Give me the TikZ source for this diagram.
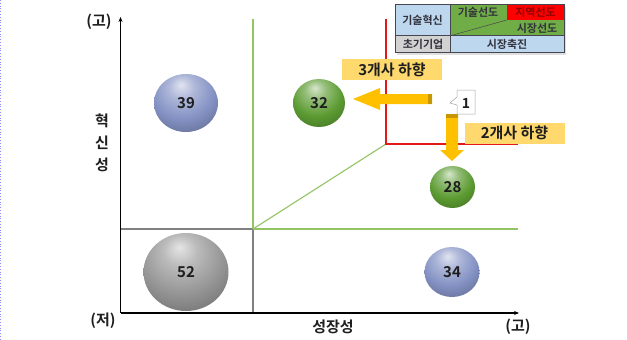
\documentclass[tikz,border=0pt]{standalone}
\usepackage{fontspec}
\setmainfont{Noto Sans CJK KR Bold}
\usetikzlibrary{arrows.meta,shapes.geometric}
\definecolor{lblue}{RGB}{189,215,238}
\definecolor{lgreen}{RGB}{112,173,71}
\definecolor{lineg}{RGB}{146,196,100}
\definecolor{liner}{RGB}{225,25,25}
\definecolor{gold}{RGB}{255,192,0}
\definecolor{golddk}{RGB}{200,150,0}
\definecolor{lblfill}{RGB}{255,217,110}
\definecolor{txt}{RGB}{30,30,30}
\makeatletter
\pgfdeclareradialshading[tikz@ball]{softball}{\pgfqpoint{-4bp}{16bp}}{%
  color(0bp)=(tikz@ball!25!white);
  color(10bp)=(tikz@ball!65!white);
  color(24bp)=(tikz@ball);
  color(40bp)=(tikz@ball!72!black);
  color(56bp)=(tikz@ball!38!black);
  color(70bp)=(tikz@ball!28!black)}
\makeatother
\tikzset{
  axis/.style={line width=1.3pt,black,-{Stealth[length=5pt,width=4pt]}},
  grayline/.style={line width=1.1pt,gray},
  greenline/.style={line width=1.1pt,lineg},
  redline/.style={line width=1.3pt,liner},
  ballnode/.style={ellipse,inner sep=0pt,font=\fontsize{15}{15}\selectfont,text=txt},
  bluebal/.style={ballnode,ball color={rgb,255:red,132;green,146;blue,196},shading=softball},
  greenbal/.style={ballnode,ball color={rgb,255:red,92;green,155;blue,50},shading=softball},
  graybal/.style={ballnode,ball color={rgb,255:red,150;green,150;blue,150},shading=softball},
  axlbl/.style={font=\fontsize{15}{15}\selectfont,text=txt},
  tag/.style={fill=lblfill,minimum width=100pt,minimum height=21pt,inner sep=0pt,font=\fontsize{15}{15}\selectfont,text=txt},
  cell/.style={draw={rgb,255:red,70;green,70;blue,80},line width=0.6pt},
  ctext/.style={font=\fontsize{11}{11}\selectfont,text={rgb,255:red,50;green,50;blue,60}},
  goldarrow/.style={fill=gold,draw=none}
}
\begin{document}
\begin{tikzpicture}[x=1pt,y=-1pt]
\useasboundingbox (0,0) rectangle (627,340);
\fill[white] (0,0) rectangle (627,340);
\draw[blue!45,dotted,line width=0.8pt] (0.6,0) -- (0.6,340);

% quadrant lines
\coordinate (C) at (253,229);
\coordinate (D) at (386,144);
\coordinate (Rtop) at (386,19);
\draw[grayline] (120.5,229) -- (C);
\draw[grayline] (C) -- (253,313);
\draw[greenline] (253,19) -- (C);
\draw[greenline] (C) -- (518,229);
\draw[greenline] (C) -- (D);
\draw[redline] (Rtop) -- (D) -- (518,144);

% axes
\coordinate (O) at (120.5,313);
\coordinate (Ytop) at (120.5,17);
\coordinate (Xend) at (519,313);
\draw[axis] (O) -- (Ytop);
\draw[axis] (O) -- (Xend);
\node[axlbl] (yhi) at (99,22) {(고)};
\node[axlbl] (ylo) at (103,321) {(저)};
\node[axlbl] (xhi) at (518,327) {(고)};
\node[axlbl] (xlab) at (333,327) {성장성};
\node[axlbl,align=center] (ylab) at (102,143) {혁\\[7pt]신\\[7pt]성};

% balls
\node[bluebal,minimum width=64pt,minimum height=58pt] (b39) at (186,103) {39};
\node[greenbal,minimum width=52pt,minimum height=48pt] (b32) at (319,103) {32};
\node[greenbal,minimum width=45pt,minimum height=42pt] (b28) at (452.5,187) {28};
\node[bluebal,minimum width=55pt,minimum height=50pt] (b34) at (452,272) {34};
\node[graybal,minimum width=85pt,minimum height=78pt] (b52) at (186,272) {52};

% arrows
\fill[goldarrow] (432,94) -- (380,94) -- (380,88) -- (353,99) -- (380,110) -- (380,104) -- (432,104) -- cycle;
\fill[golddk] (428,94) rectangle (432,104);
\fill[goldarrow] (446,114) -- (446,150) -- (440,150) -- (452,161) -- (464,150) -- (458,150) -- (458,114) -- cycle;
\fill[golddk] (446,114) rectangle (458,118);

% tags
\node[tag] (t3) at (392,69.5) {3개사 하향};
\node[tag] (t2) at (514.5,133) {2개사 하향};

% callout 1
\draw[gray!70,fill=white,line width=0.5pt] (457,90) -- (475,90) -- (475,114) -- (457,114) -- (457,105) -- (450,103) -- (457,97) -- cycle;
\node[font=\fontsize{14}{14}\selectfont,text=txt] (one) at (466,103) {1};

% legend table
\fill[gray!25] (397,6.5) rectangle (566,54.5);
\fill[lblue] (395,4.3) rectangle (450.5,35.7);
\fill[lgreen] (450.5,4.3) rectangle (564,35.7);
\fill[red] (506.7,4.3) rectangle (564,20);
\fill[gray!35] (395,35.7) rectangle (450.5,52.3);
\fill[lblue] (450.5,35.7) rectangle (564,52.3);
\draw[cell] (395,4.3) rectangle (564,52.3);
\draw[cell] (395,35.7) -- (564,35.7);
\draw[cell] (450.5,4.3) -- (450.5,52.3);
\draw[cell,line width=0.5pt] (450.5,35.7) -- (506.7,20);
\node[ctext] (k1) at (422.5,20) {기술혁신};
\node[ctext] (k2) at (478,12.5) {기술선도};
\node[ctext,text={rgb,255:red,140;green,0;blue,0}] (k3) at (535.5,12.5) {지역선도};
\node[ctext] (k4) at (537,28) {시장선도};
\node[ctext] (k5) at (423,44) {초기기업};
\node[ctext] (k6) at (507,44) {시장축진};
\end{tikzpicture}
\end{document}
